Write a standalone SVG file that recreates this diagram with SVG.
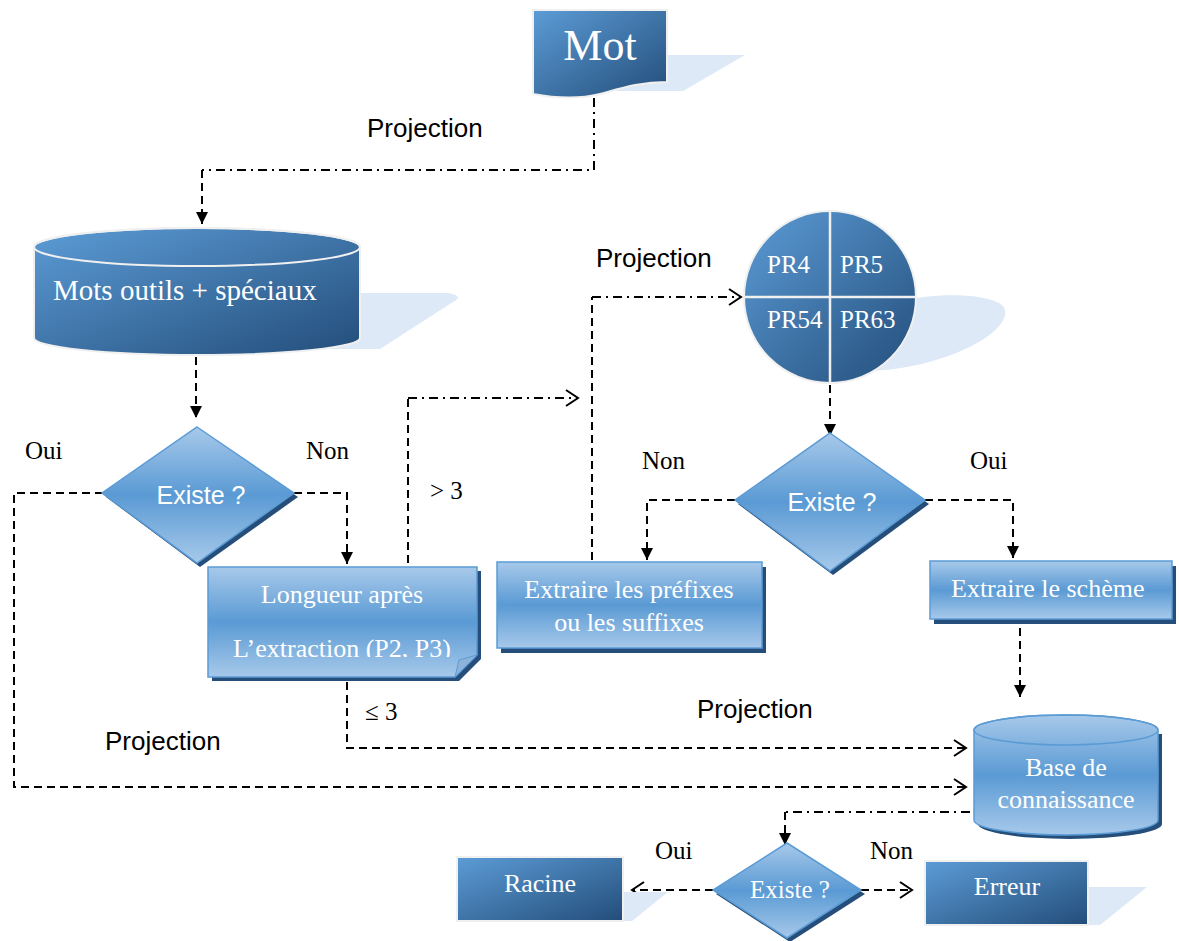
<svg xmlns="http://www.w3.org/2000/svg" width="1179" height="941" viewBox="0 0 1179 941">
  <style>
    .serif { font-family: "Liberation Serif", "Times New Roman", serif; fill: #ffffff; }
    .sans-w { font-family: "Liberation Sans", Arial, sans-serif; fill: #ffffff; }
    .lbl { font-family: "Liberation Serif", "Times New Roman", serif; fill: #000000; font-size: 25px; }
    .proj { font-family: "Liberation Sans", Arial, sans-serif; fill: #000000; font-size: 26px; }
    .dash { fill: none; stroke: #000; stroke-width: 2; stroke-dasharray: 8 5; }
    .dashdot { fill: none; stroke: #000; stroke-width: 2; stroke-dasharray: 9 5 2 5; }
    .soft { fill: #DDE9F6; }
    .darkshadow { fill: #254F7A; }
    .darkfill { fill: url(#gDark); stroke: #F0F0F0; stroke-width: 2; }
    .lightfill { fill: url(#gLight); stroke: #5B9BD5; stroke-width: 1.5; }
    .mid { text-anchor: middle; }
  </style>
  <defs>
    <linearGradient id="gDark" x1="0" y1="0" x2="1" y2="1">
      <stop offset="0" stop-color="#5C9CD6"/>
      <stop offset="1" stop-color="#234D7A"/>
    </linearGradient>
    <linearGradient id="gLight" x1="0" y1="0" x2="0" y2="1">
      <stop offset="0" stop-color="#A7C9EA"/>
      <stop offset="0.5" stop-color="#5A9AD4"/>
      <stop offset="1" stop-color="#A7C9EA"/>
    </linearGradient>
    <marker id="aFill" markerUnits="userSpaceOnUse" markerWidth="14" markerHeight="14" refX="12" refY="6" orient="auto">
      <path d="M0,0 L12,6 L0,12 Z" fill="#000"/>
    </marker>
    <marker id="aOpen" markerUnits="userSpaceOnUse" markerWidth="16" markerHeight="20" refX="13" refY="9" orient="auto">
      <path d="M1,1 L13,9 L1,17" fill="none" stroke="#000" stroke-width="2"/>
    </marker>
    <clipPath id="clipLong">
      <rect x="208" y="567" width="269" height="90"/>
    </clipPath>
  </defs>

  <!-- connectors -->
  <g id="connectors">
    <path class="dashdot" d="M594,98 V170 H202"/>
    <path class="dash" d="M202,170 V224" marker-end="url(#aFill)"/>
    <path class="dash" d="M196,357 V418" marker-end="url(#aFill)"/>
    <path class="dash" d="M103,493 H14 V787 H966" marker-end="url(#aOpen)"/>
    <path class="dash" d="M294,493 H347 V564" marker-end="url(#aFill)"/>
    <path class="dash" d="M408,563 V398"/>
    <path class="dashdot" d="M408,398 H578" marker-end="url(#aOpen)"/>
    <path class="dash" d="M347,682 V748 H966" marker-end="url(#aOpen)"/>
    <path class="dash" d="M592,560 V297"/>
    <path class="dashdot" d="M592,297 H741" marker-end="url(#aOpen)"/>
    <path class="dash" d="M830,372 V436" marker-end="url(#aFill)"/>
    <path class="dash" d="M735,500 H647 V560" marker-end="url(#aFill)"/>
    <path class="dash" d="M925,500 H1013 V558" marker-end="url(#aFill)"/>
    <path class="dash" d="M1020,628 V697" marker-end="url(#aFill)"/>
    <path class="dashdot" d="M970,812 H785"/>
    <path class="dash" d="M785,812 V845" marker-end="url(#aFill)"/>
    <path class="dash" d="M713,890 H632" marker-end="url(#aOpen)"/>
    <path class="dash" d="M861,890 H912" marker-end="url(#aOpen)"/>
  </g>

  <!-- connector labels -->
  <g id="labels">
    <text class="proj" x="367" y="137">Projection</text>
    <text class="proj" x="596" y="267">Projection</text>
    <text class="proj" x="697" y="718">Projection</text>
    <text class="proj" x="105" y="750">Projection</text>
    <text class="lbl" x="25" y="459">Oui</text>
    <text class="lbl" x="306" y="459">Non</text>
    <text class="lbl" x="430" y="499">&gt; 3</text>
    <text class="lbl" x="365" y="720">≤ 3</text>
    <text class="lbl" x="642" y="469">Non</text>
    <text class="lbl" x="970" y="469">Oui</text>
    <text class="lbl" x="655" y="859">Oui</text>
    <text class="lbl" x="870" y="859">Non</text>
  </g>

  <!-- word document -->
  <g id="mot">
    <path class="soft" d="M660,55 H745 L683,91 H600 Z"/>
    <path class="darkfill" d="M533,10 H667 V82 C640,82 622,88 600,94 C580,99 560,99 533,94 Z"/>
    <text class="serif mid" x="600" y="60" font-size="44">Mot</text>
  </g>

  <!-- tool words store -->
  <g id="mots-outils">
    <path class="soft" d="M340,293 H448 Q465,296 453,302 L380,349 H100 Z"/>
    <path class="darkfill" d="M34,247 V338 A163,17 0 0 0 360,338 V247 A163,19 0 0 0 34,247 Z"/>
    <ellipse cx="197" cy="247" rx="163" ry="19" fill="none" stroke="#F0F0F0" stroke-width="2"/>
    <text class="serif" x="53" y="300" font-size="29">Mots outils + spéciaux</text>
  </g>

  <!-- first decision -->
  <g id="existe-1">
    <path class="darkshadow" d="M200,431 L298,497 L200,567 L106,497 Z"/>
    <path class="lightfill" d="M197,427 L294,493 L197,563 L102,493 Z"/>
    <text class="sans-w mid" x="201" y="504" font-size="25">Existe ?</text>
  </g>

  <!-- length after extraction -->
  <g id="longueur">
    <path class="darkshadow" d="M212,571 H481 V659 L459,681 H212 Z"/>
    <path class="lightfill" d="M208,567 H477 V655 L455,677 H208 Z"/>
    <path d="M455,677 L459,660 L477,655 Z" fill="#8DB3DA" stroke="#5B9BD5" stroke-width="1"/>
    <g clip-path="url(#clipLong)">
      <text class="serif mid" x="342" y="603" font-size="26">Longueur après</text>
      <text class="serif mid" x="342" y="657" font-size="26">L’extraction (P2, P3)</text>
    </g>
  </g>

  <!-- prefix/suffix extraction -->
  <g id="extraire-affixes">
    <rect class="darkshadow" x="501" y="567" width="265" height="86"/>
    <rect class="lightfill" x="497" y="562" width="265" height="86"/>
    <text class="serif mid" x="629" y="598" font-size="26">Extraire les préfixes</text>
    <text class="serif mid" x="629" y="631" font-size="26">ou les suffixes</text>
  </g>

  <!-- pattern circle -->
  <g id="patterns">
    <path class="soft" d="M860,371 C935,372 1010,335 1005,310 C1000,292 930,292 900,302 Z"/>
    <circle cx="830" cy="297" r="86" fill="url(#gDark)" stroke="#F0F0F0" stroke-width="2"/>
    <path d="M830,211 V383 M744,297 H916" stroke="#F0F0F0" stroke-width="2.5"/>
    <text class="serif" x="767" y="273" font-size="25">PR4</text>
    <text class="serif" x="840" y="273" font-size="25">PR5</text>
    <text class="serif" x="767" y="328" font-size="25">PR54</text>
    <text class="serif" x="840" y="328" font-size="25">PR63</text>
  </g>

  <!-- second decision -->
  <g id="existe-2">
    <path class="darkshadow" d="M833,437 L929,504 L833,575 L738,504 Z"/>
    <path class="lightfill" d="M830,433 L925,500 L830,571 L735,500 Z"/>
    <text class="sans-w mid" x="832" y="511" font-size="25">Existe ?</text>
  </g>

  <!-- scheme extraction -->
  <g id="extraire-scheme">
    <rect class="darkshadow" x="934" y="566" width="242" height="58"/>
    <rect class="lightfill" x="930" y="561" width="242" height="58"/>
    <text class="serif" x="951" y="597" font-size="26">Extraire le schème</text>
  </g>

  <!-- knowledge base -->
  <g id="base">
    <path class="darkshadow" d="M978,734 V824 A92,15 0 0 0 1162,824 V734 Z"/>
    <path class="lightfill" d="M974,730 V820 A92,15 0 0 0 1158,820 V730 A92,15 0 0 0 974,730 Z"/>
    <ellipse cx="1066" cy="730" rx="92" ry="15" fill="none" stroke="#5B9BD5" stroke-width="1.5"/>
    <text class="serif mid" x="1066" y="776" font-size="26">Base de</text>
    <text class="serif mid" x="1066" y="808" font-size="26">connaissance</text>
  </g>

  <!-- third decision -->
  <g id="existe-3">
    <path class="darkshadow" d="M790,847 L865,894 L790,942 L716,894 Z"/>
    <path class="lightfill" d="M787,843 L861,890 L787,938 L713,890 Z"/>
    <text class="serif mid" x="790" y="898" font-size="25">Existe ?</text>
  </g>

  <!-- outcomes -->
  <g id="racine">
    <path class="soft" d="M620,892 H668 L632,921 H620 Z"/>
    <rect class="darkfill" x="457" y="857" width="166" height="64"/>
    <text class="serif mid" x="540" y="892" font-size="26">Racine</text>
  </g>
  <g id="erreur">
    <path class="soft" d="M1085,887 H1147 L1100,925 H1085 Z"/>
    <rect class="darkfill" x="925" y="861" width="163" height="64"/>
    <text class="serif mid" x="1007" y="895" font-size="26">Erreur</text>
  </g>
</svg>
